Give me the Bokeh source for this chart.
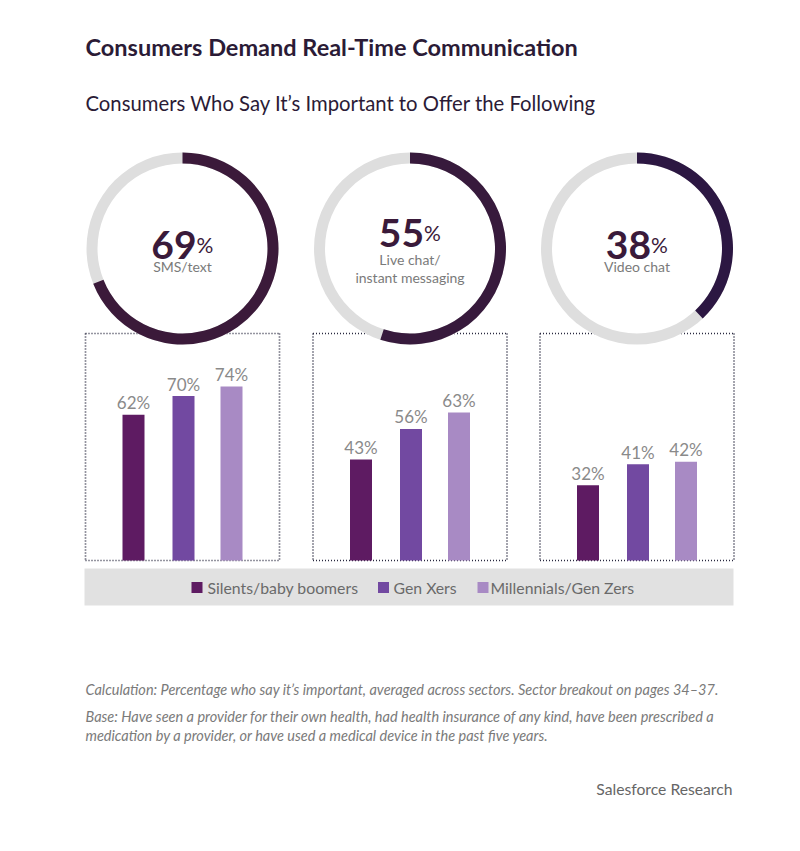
import math
from bokeh.plotting import figure
from bokeh.models import Range1d, ColumnDataSource
from bokeh.core.properties import value
from bokeh.embed import file_html
from bokeh.resources import INLINE

# ---------------- data ----------------
title = "Consumers Demand Real-Time Communication"
subtitle = "Consumers Who Say It\u2019s Important to Offer the Following"
channels = [["SMS/text"], ["Live chat/", "instant messaging"], ["Video chat"]]
overall = [69, 55, 38]
generations = ["Silents/baby boomers", "Gen Xers", "Millennials/Gen Zers"]
silents = [62, 43, 32]
gen_x = [70, 56, 41]
millennials = [74, 63, 42]
notes = [
    "Calculation: Percentage who say it\u2019s important, averaged across sectors. Sector breakout on pages 34\u201337.",
    "Base: Have seen a provider for their own health, had health insurance of any kind, have been prescribed a",
    "medication by a provider, or have used a medical device in the past five years.",
]
source_note = "Salesforce Research"

# ---------------- style / layout ----------------
W, H = 784, 835
PAGE_H = 851
def Y(img_y):
    return PAGE_H - img_y

FONT = "Lato"
DARK = "#2b1b36"
ARC_COLORS = ["#3b1a3a", "#371a3c", "#2c1742"]
TEXT_DARK = "#3a1a3a"
RING = "#dedede"
BAR_COLORS = ["#5e1b62", "#7249a1", "#a88ac4"]
centers = [182, 409.5, 636.5]
donut_y = 248
R_OUT, R_IN = 96, 85
box_half = 97
box_top, box_bottom = 333, 560
bar_offsets = [-49, 1, 49]
px_per_pct = 2.35

p = figure(width=W, height=H, output_backend="svg", toolbar_location=None,
           x_range=Range1d(0, W), y_range=Range1d(PAGE_H - H, PAGE_H),
           x_axis_type=None, y_axis_type=None, min_border=0)
p.outline_line_color = None
p.xgrid.visible = False
p.ygrid.visible = False
p.background_fill_color = "white"
p.border_fill_color = "white"

# percent scale for bars: 0 at box bottom
zero = Y(box_bottom)
p.extra_y_ranges = {"pct": Range1d(start=(p.y_range.start - zero) / px_per_pct,
                                   end=(p.y_range.end - zero) / px_per_pct)}

# titles
p.text(x=[85], y=[Y(46)], text=[title], text_font=value(FONT), text_font_style="bold",
       text_font_size="23.5px", text_color=DARK, text_baseline="middle")
p.text(x=[85], y=[Y(102)], text=[subtitle], text_font=value(FONT),
       text_font_size="20.3px", text_color=DARK, text_baseline="middle")

# dotted boxes
DOT = dict(line_color="#2a2a40", line_width=1.7, line_dash="1 2")
for cx in centers:
    l, r = cx - box_half, cx + box_half
    p.line([l, r], [Y(box_top), Y(box_top)], **DOT)
    p.line([l, r], [Y(box_bottom), Y(box_bottom)], **DOT)
    p.line([l, l], [Y(box_top), Y(box_bottom)], **DOT)
    p.line([r, r], [Y(box_top), Y(box_bottom)], **DOT)

# donuts
dy = [Y(donut_y)] * 3
p.circle(x=centers, y=dy, radius=R_OUT, fill_color="white", line_color=None)
p.annulus(x=centers, y=dy, inner_radius=R_IN, outer_radius=R_OUT, fill_color=RING, line_color=None)
starts = [math.pi / 2] * 3
ends = [math.pi / 2 - 2 * math.pi * v / 100 for v in overall]
p.annular_wedge(x=centers, y=dy, inner_radius=R_IN, outer_radius=R_OUT,
                start_angle=starts, end_angle=ends, direction="clock",
                fill_color=ARC_COLORS, line_color=None)

for cx, v, lines in zip(centers, overall, channels):
    n = len(lines)
    nb = 244 - 12 * (n - 1)
    p.text(x=[cx + 14], y=[Y(nb)], text=[str(v)], text_font=value(FONT), text_font_style="bold",
           text_font_size="39px", text_color=TEXT_DARK, text_align="right", text_baseline="alphabetic")
    p.text(x=[cx + 14], y=[Y(nb)], text=["%"], text_font=value(FONT),
           text_font_size="21px", text_color=TEXT_DARK, text_align="left", text_baseline="alphabetic")
    for i, ln in enumerate(lines):
        p.text(x=[cx], y=[Y(266 - 7 * (n - 1) + 18 * i)], text=[ln], text_font=value(FONT),
               text_font_size="14px", text_color="#7a7a7a", text_align="center",
               text_baseline="alphabetic")

# bars
for gi, (vals, col) in enumerate(zip([silents, gen_x, millennials], BAR_COLORS)):
    src = ColumnDataSource(dict(x=[c + bar_offsets[gi] for c in centers], top=vals,
                                lab=[f"{v}%" for v in vals]))
    p.vbar(x="x", top="top", bottom=0, width=22, source=src, fill_color=col,
           line_color=None, y_range_name="pct")
    p.text(x="x", y="top", text="lab", source=src, y_range_name="pct", y_offset=-12,
           text_font=value(FONT), text_font_size="17px", text_color="#8a8a8a",
           text_align="center", text_baseline="alphabetic")

# legend band
p.quad(left=[84], right=[733], bottom=[Y(605)], top=[Y(568)], fill_color="#e1e1e1", line_color=None)
leg_sq = [196.5, 383, 482.5]
leg_tx = [207, 393, 490]
p.scatter(x=leg_sq, y=[Y(587)] * 3, marker="square", size=11, fill_color=BAR_COLORS, line_color=None)
p.text(x=leg_tx, y=[Y(587)] * 3, text=generations, text_font=value(FONT), text_font_size="15.8px",
       text_color="#6a6a6a", text_baseline="middle")

# notes
for yy, t in zip([689, 716, 735], notes):
    p.text(x=[85], y=[Y(yy)], text=[t], text_font=value(FONT), text_font_style="italic",
           text_font_size="14.5px", text_color="#7a7a7a", text_baseline="middle")
p.text(x=[732], y=[Y(788)], text=[source_note], text_font=value(FONT), text_font_size="15.7px",
       text_color="#666666", text_align="right", text_baseline="middle")

open("out.html", "w").write(file_html(p, INLINE))
